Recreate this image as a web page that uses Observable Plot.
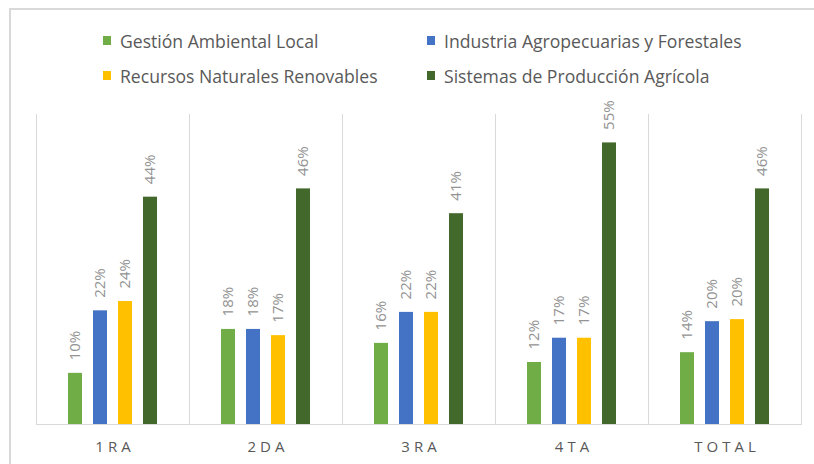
<!DOCTYPE html>
<html>
<head>
<meta charset="utf-8">
<script src="https://cdn.jsdelivr.net/npm/d3@7"></script>
<script src="https://cdn.jsdelivr.net/npm/@observablehq/plot@0.6"></script>
<style>
  html, body { margin: 0; padding: 0; background: #fff; }
  #wrap { position: relative; width: 814px; height: 464px; overflow: hidden; background: #fff; }
  #border { position: absolute; left: 9px; top: 8px; width: 900px; height: 600px;
            border-left: 2px solid #d9d9d9; border-top: 2px solid #d9d9d9; }
  #legend { position: absolute; left: 103px; top: 23px; display: grid;
            grid-template-columns: 324px auto; grid-auto-rows: 35px;
            font-family: "Open Sans", sans-serif; font-size: 17.6px; color: #595959; }
  .item { display: flex; align-items: center; white-space: nowrap; }
  .sw { width: 8px; height: 9px; margin-right: 9px; flex: none; }
  #chart { position: absolute; left: 0; top: 90px; }
  #chart g[aria-label="fx-axis tick label"] text { letter-spacing: 4px; }
</style>
</head>
<body>
<div id="wrap">
  <div id="border"></div>
  <div id="legend"></div>
  <div id="chart"></div>
</div>
<script>
const groups = ["1RA", "2DA", "3RA", "4TA", "TOTAL"];
const series = [
  "Gestión Ambiental Local",
  "Industria Agropecuarias y Forestales",
  "Recursos Naturales Renovables",
  "Sistemas de Producción Agrícola"
];
const colors = ["#70ad47", "#4472c4", "#ffc000", "#43682b"];
const gestion   = [0.099, 0.184, 0.157, 0.120, 0.139];
const industria = [0.220, 0.184, 0.217, 0.167, 0.199];
const recursos  = [0.238, 0.172, 0.217, 0.167, 0.203];
const sistemas  = [0.440, 0.456, 0.408, 0.545, 0.456];

const valuesBySeries = [gestion, industria, recursos, sistemas];
const data = [];
groups.forEach((g, gi) => {
  series.forEach((s, si) => {
    data.push({group: g, series: s, value: valuesBySeries[si][gi]});
  });
});

// Legend
const legend = document.getElementById("legend");
series.forEach((s, i) => {
  const item = document.createElement("div");
  item.className = "item";
  const sw = document.createElement("span");
  sw.className = "sw";
  sw.style.background = colors[i];
  const t = document.createElement("span");
  t.textContent = s;
  item.appendChild(sw);
  item.appendChild(t);
  legend.appendChild(item);
});

const chart = Plot.plot({
  width: 814,
  height: 374,
  marginTop: 24,
  marginBottom: 40,
  marginLeft: 34,
  marginRight: 11,
  style: {fontFamily: "'Open Sans', sans-serif", fontSize: "14px", background: "transparent", overflow: "visible"},
  fx: {domain: groups, padding: 0, label: null},
  x: {domain: series, paddingInner: 0.46, paddingOuter: 1.19, axis: null},
  y: {domain: [0, 0.6], axis: null},
  color: {domain: series, range: colors},
  marks: [
    Plot.frame({anchor: "left", stroke: "#d9d9d9"}),
    Plot.frame({anchor: "right", stroke: "#d9d9d9"}),
    Plot.barY(data, {fx: "group", x: "series", y: "value", fill: "series"}),
    Plot.ruleY([0], {stroke: "#d9d9d9"}),
    Plot.text(data, {
      fx: "group", x: "series", y: "value",
      text: d => Math.round(d.value * 100) + "%",
      rotate: -90, textAnchor: "start", lineAnchor: "middle",
      dy: -13, fill: "#939393", fontSize: 15
    }),
    Plot.axisFx({anchor: "bottom", tickSize: 0, tickPadding: 17, fontSize: 15, fill: "#595959", label: null, dx: 2})
  ]
});
document.getElementById("chart").appendChild(chart);
</script>
</body>
</html>
